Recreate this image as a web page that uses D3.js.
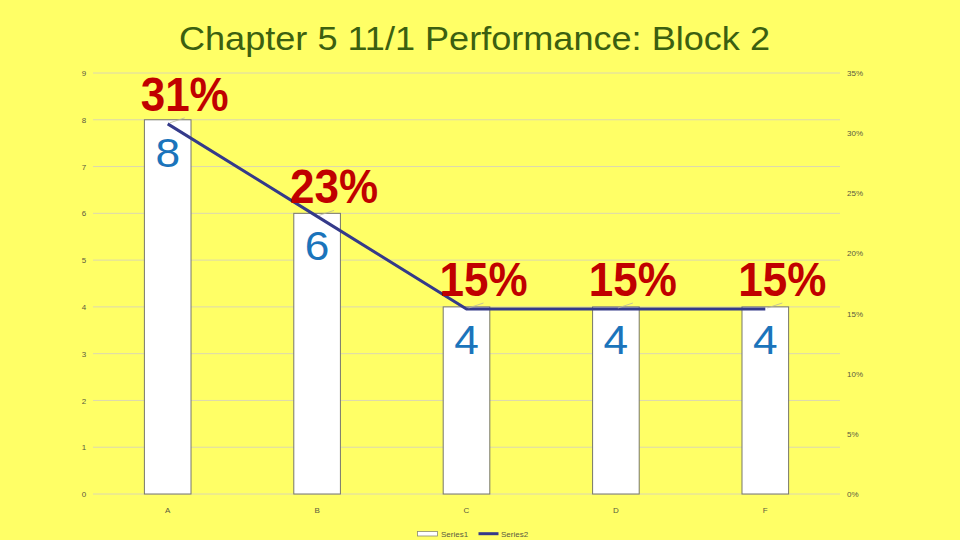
<!DOCTYPE html>
<html>
<head>
<meta charset="utf-8">
<script src="https://cdn.jsdelivr.net/npm/d3@7"></script>
<style>
  html, body { margin: 0; padding: 0; background: #ffff66; }
  svg { display: block; font-family: "Liberation Sans", Arial, sans-serif; }
</style>
</head>
<body>
<div id="chart"></div>
<script>
const width = 960;
const height = 540;

// chart data
const categories = ["A", "B", "C", "D", "F"];
const series1 = [8, 6, 4, 4, 4];
const series2 = [0.3077, 0.2308, 0.1538, 0.1538, 0.1538];
const leftTicks = [0, 1, 2, 3, 4, 5, 6, 7, 8, 9];
const rightTicks = [0, 0.05, 0.10, 0.15, 0.20, 0.25, 0.30, 0.35];
const seriesNames = ["Series1", "Series2"];
const title = "Chapter 5 11/1 Performance: Block 2";

const plot = { left: 93, right: 840, top: 73, bottom: 494 };

const svg = d3.select("#chart").append("svg")
    .attr("width", width)
    .attr("height", height);

svg.append("rect")
    .attr("width", width)
    .attr("height", height)
    .attr("fill", "#ffff66");

const x = d3.scaleBand()
    .domain(categories)
    .range([plot.left, plot.right])
    .padding(0);
const barWidth = x.bandwidth() * 0.312;
const cx = d => x(d) + x.bandwidth() / 2;

const yLeft = d3.scaleLinear().domain([0, 9]).range([plot.bottom, plot.top]);
const yRight = d3.scaleLinear().domain([0, 0.35]).range([plot.bottom, plot.top]);

// title
svg.append("text")
    .attr("x", 474.5)
    .attr("y", 49.5)
    .attr("text-anchor", "middle")
    .attr("font-size", 33)
    .attr("fill", "#3b6010")
    .attr("textLength", 591)
    .attr("lengthAdjust", "spacingAndGlyphs")
    .text(title);

// gridlines
svg.append("g")
    .selectAll("line")
    .data(leftTicks)
    .join("line")
    .attr("x1", plot.left)
    .attr("x2", plot.right)
    .attr("y1", d => yLeft(d))
    .attr("y2", d => yLeft(d))
    .attr("stroke", "#dcd8b0")
    .attr("stroke-width", 1);

// left axis
const leftAxis = d3.axisLeft(yLeft).tickValues(leftTicks).tickSize(0).tickPadding(0);
const gl = svg.append("g")
    .attr("transform", `translate(${86},0)`)
    .call(leftAxis);
gl.select(".domain").remove();
gl.selectAll("text")
    .attr("font-size", 8)
    .attr("fill", "#5a5a40")
    .attr("text-anchor", "middle")
    .attr("x", -2);

// right axis
const rightAxis = d3.axisRight(yRight).tickValues(rightTicks).tickSize(0).tickPadding(0)
    .tickFormat(d3.format(".0%"));
const gr = svg.append("g")
    .attr("transform", `translate(${847},0)`)
    .call(rightAxis);
gr.select(".domain").remove();
gr.selectAll("text")
    .attr("font-size", 8)
    .attr("fill", "#5a5a40");

// category axis
const bottomAxis = d3.axisBottom(x).tickSize(0).tickPadding(0);
const gb = svg.append("g")
    .attr("transform", `translate(0,${507})`)
    .call(bottomAxis);
gb.select(".domain").remove();
gb.selectAll("text")
    .attr("font-size", 8)
    .attr("fill", "#5a5a40");

// bars
svg.append("g")
    .selectAll("rect")
    .data(series1)
    .join("rect")
    .attr("x", (d, i) => cx(categories[i]) - barWidth / 2)
    .attr("y", d => yLeft(d))
    .attr("width", barWidth)
    .attr("height", d => yLeft(0) - yLeft(d))
    .attr("fill", "#ffffff")
    .attr("stroke", "#77776a")
    .attr("stroke-width", 1);

// bar labels
svg.append("g")
    .selectAll("text")
    .data(series1)
    .join("text")
    .attr("transform", (d, i) => `translate(${cx(categories[i])},${yLeft(d) + 47}) scale(1.08,1)`)
    .attr("text-anchor", "middle")
    .attr("font-size", 41)
    .attr("fill", "#1b74bb")
    .text(d => d);

// line series
const line = d3.line()
    .x((d, i) => cx(categories[i]))
    .y(d => yRight(d));

svg.append("path")
    .datum(series2)
    .attr("d", line)
    .attr("fill", "none")
    .attr("stroke", "#343a8a")
    .attr("stroke-width", 3);

// leader lines
svg.append("g")
    .selectAll("line")
    .data(series2)
    .join("line")
    .attr("x1", (d, i) => cx(categories[i]) + 2)
    .attr("y1", d => yRight(d) - 1)
    .attr("x2", (d, i) => cx(categories[i]) + 17)
    .attr("y2", d => yRight(d) - 6)
    .attr("stroke", "#b8b8a0")
    .attr("stroke-width", 0.8);

// line labels
svg.append("g")
    .selectAll("text")
    .data(series2)
    .join("text")
    .attr("transform", (d, i) => `translate(${cx(categories[i]) + 17},${yRight(d) - 13}) scale(1,1.1)`)
    .attr("text-anchor", "middle")
    .attr("font-size", 44)
    .attr("font-weight", "bold")
    .attr("fill", "#c00000")
    .text(d => d3.format(".0%")(d));

// legend
const legend = svg.append("g");
legend.append("rect")
    .attr("x", 417.5)
    .attr("y", 531.5)
    .attr("width", 20)
    .attr("height", 4.5)
    .attr("fill", "#ffffff")
    .attr("stroke", "#8a8a70")
    .attr("stroke-width", 0.8);
legend.append("text")
    .attr("x", 441)
    .attr("y", 536.5)
    .attr("font-size", 8)
    .attr("fill", "#5a5a40")
    .text(seriesNames[0]);
legend.append("line")
    .attr("x1", 478.5)
    .attr("x2", 498.5)
    .attr("y1", 533.7)
    .attr("y2", 533.7)
    .attr("stroke", "#343a8a")
    .attr("stroke-width", 3);
legend.append("text")
    .attr("x", 501)
    .attr("y", 536.5)
    .attr("font-size", 8)
    .attr("fill", "#5a5a40")
    .text(seriesNames[1]);
</script>
</body>
</html>
